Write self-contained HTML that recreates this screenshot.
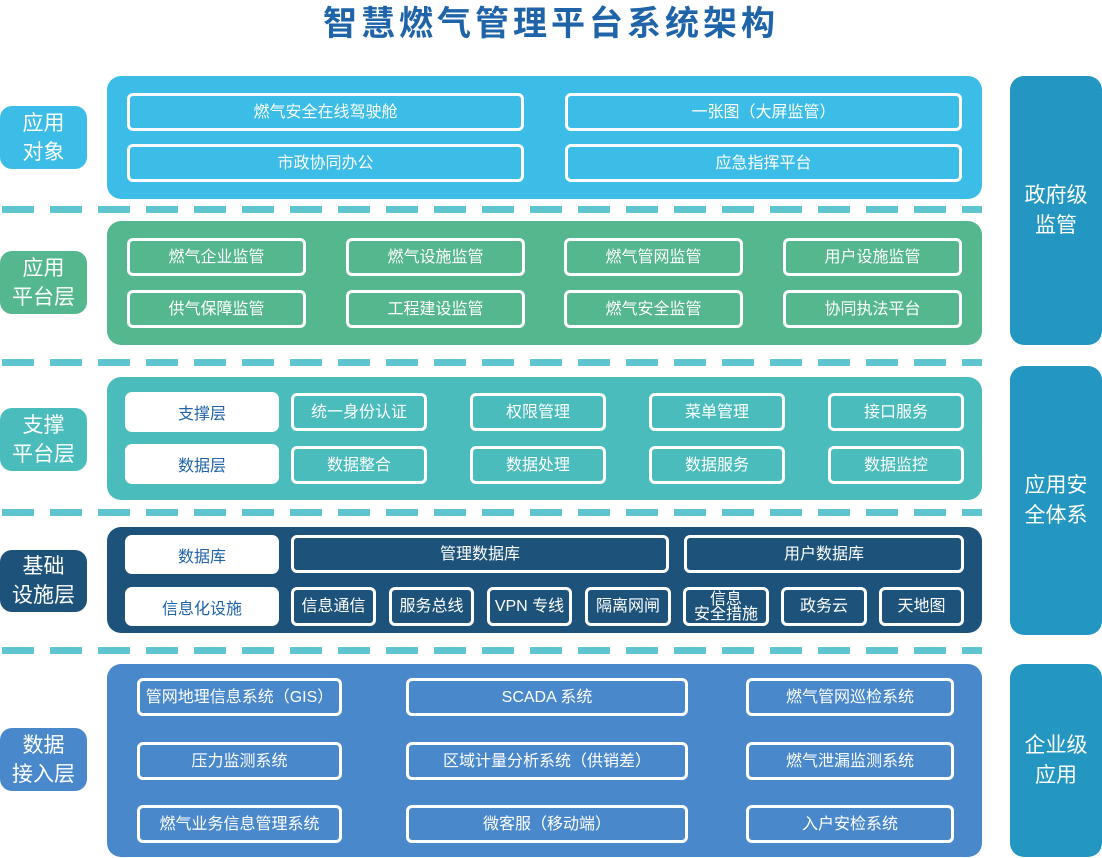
<!DOCTYPE html>
<html><head><meta charset="utf-8"><style>
*{margin:0;padding:0;box-sizing:border-box}
body{width:1102px;height:858px;background:#fff;position:relative;overflow:hidden;font-family:"Liberation Sans","Noto Sans CJK SC",sans-serif}
div{position:absolute}
.t{left:0;width:1102px;top:-4px;text-align:center;font-size:34px;font-weight:bold;color:#1f63a8;letter-spacing:4px}
.band{left:107px;width:875px;border-radius:14px}
.b{border:3px solid #fff;border-radius:6px;color:#fff;font-size:16px;display:flex;align-items:center;justify-content:center;text-align:center;line-height:15px}
.w{background:#fff;border-radius:7px;color:#1f63a8;font-size:16px;display:flex;align-items:center;justify-content:center}
.l{left:0;width:87px;border-radius:12px;color:#fff;font-size:21px;line-height:29px;display:flex;align-items:center;justify-content:center;text-align:center}
.r{left:1010px;width:92px;border-radius:14px;background:#2397c2;color:#fff;font-size:21px;line-height:30px;display:flex;align-items:center;justify-content:center;text-align:center}
.d{left:2px;width:980px;height:7px;background:repeating-linear-gradient(90deg,#5ec4cf 0 32px,transparent 32px 48px)}
</style></head><body>
<div class="t">智慧燃气管理平台系统架构</div>

<div class="band" style="top:76px;height:123px;background:#3bbde8"></div>
<div class="b" style="left:127px;top:93px;width:397px;height:38px">燃气安全在线驾驶舱</div>
<div class="b" style="left:565px;top:93px;width:397px;height:38px">一张图（大屏监管）</div>
<div class="b" style="left:127px;top:144px;width:397px;height:38px">市政协同办公</div>
<div class="b" style="left:565px;top:144px;width:397px;height:38px">应急指挥平台</div>
<div class="l" style="top:106px;height:63px;background:#3bbde8">应用<br>对象</div>
<div class="d" style="top:206px"></div>

<div class="band" style="top:221px;height:124px;background:#54b78e"></div>
<div class="b" style="left:127px;top:238px;width:179px;height:38px">燃气企业监管</div>
<div class="b" style="left:346px;top:238px;width:179px;height:38px">燃气设施监管</div>
<div class="b" style="left:564px;top:238px;width:179px;height:38px">燃气管网监管</div>
<div class="b" style="left:783px;top:238px;width:179px;height:38px">用户设施监管</div>
<div class="b" style="left:127px;top:290px;width:179px;height:38px">供气保障监管</div>
<div class="b" style="left:346px;top:290px;width:179px;height:38px">工程建设监管</div>
<div class="b" style="left:564px;top:290px;width:179px;height:38px">燃气安全监管</div>
<div class="b" style="left:783px;top:290px;width:179px;height:38px">协同执法平台</div>
<div class="l" style="top:251px;height:63px;background:#54b78e">应用<br>平台层</div>
<div class="d" style="top:359px"></div>

<div class="band" style="top:377px;height:123px;background:#4bbcbc"></div>
<div class="w" style="left:125px;top:392px;width:154px;height:40px">支撑层</div>
<div class="w" style="left:125px;top:444px;width:154px;height:40px">数据层</div>
<div class="b" style="left:291px;top:393px;width:136px;height:38px">统一身份认证</div>
<div class="b" style="left:470px;top:393px;width:136px;height:38px">权限管理</div>
<div class="b" style="left:649px;top:393px;width:136px;height:38px">菜单管理</div>
<div class="b" style="left:828px;top:393px;width:136px;height:38px">接口服务</div>
<div class="b" style="left:291px;top:446px;width:136px;height:38px">数据整合</div>
<div class="b" style="left:470px;top:446px;width:136px;height:38px">数据处理</div>
<div class="b" style="left:649px;top:446px;width:136px;height:38px">数据服务</div>
<div class="b" style="left:828px;top:446px;width:136px;height:38px">数据监控</div>
<div class="l" style="top:408px;height:63px;background:#4bbcbc">支撑<br>平台层</div>
<div class="d" style="top:509px"></div>

<div class="band" style="top:527px;height:106px;background:#1d527a"></div>
<div class="w" style="left:125px;top:535px;width:154px;height:39px">数据库</div>
<div class="w" style="left:125px;top:587px;width:154px;height:39px">信息化设施</div>
<div class="b" style="left:291px;top:535px;width:378px;height:38px">管理数据库</div>
<div class="b" style="left:684px;top:535px;width:280px;height:38px">用户数据库</div>
<div class="b" style="left:291px;top:587px;width:85px;height:39px">信息通信</div>
<div class="b" style="left:389px;top:587px;width:85px;height:39px">服务总线</div>
<div class="b" style="left:487px;top:587px;width:85px;height:39px">VPN 专线</div>
<div class="b" style="left:585px;top:587px;width:86px;height:39px">隔离网闸</div>
<div class="b" style="left:683px;top:587px;width:86px;height:39px">信息<br>安全措施</div>
<div class="b" style="left:781px;top:587px;width:86px;height:39px">政务云</div>
<div class="b" style="left:879px;top:587px;width:85px;height:39px">天地图</div>
<div class="l" style="top:550px;height:62px;background:#1d527a">基础<br>设施层</div>
<div class="d" style="top:647px"></div>

<div class="band" style="top:664px;height:193px;background:#4a88cc"></div>
<div class="b" style="left:137px;top:678px;width:205px;height:38px">管网地理信息系统（GIS）</div>
<div class="b" style="left:406px;top:678px;width:282px;height:38px">SCADA 系统</div>
<div class="b" style="left:746px;top:678px;width:208px;height:38px">燃气管网巡检系统</div>
<div class="b" style="left:137px;top:742px;width:205px;height:38px">压力监测系统</div>
<div class="b" style="left:406px;top:742px;width:282px;height:38px">区域计量分析系统（供销差）</div>
<div class="b" style="left:746px;top:742px;width:208px;height:38px">燃气泄漏监测系统</div>
<div class="b" style="left:137px;top:805px;width:205px;height:38px">燃气业务信息管理系统</div>
<div class="b" style="left:406px;top:805px;width:282px;height:38px">微客服（移动端）</div>
<div class="b" style="left:746px;top:805px;width:208px;height:38px">入户安检系统</div>
<div class="l" style="top:728px;height:63px;background:#4a88cc">数据<br>接入层</div>

<div class="r" style="top:76px;height:269px">政府级<br>监管</div>
<div class="r" style="top:366px;height:269px">应用安<br>全体系</div>
<div class="r" style="top:664px;height:193px">企业级<br>应用</div>
</body></html>
